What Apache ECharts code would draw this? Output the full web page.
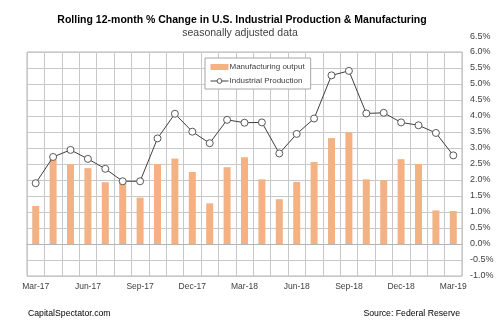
<!DOCTYPE html>
<html>
<head>
<meta charset="utf-8">
<script src="https://cdn.jsdelivr.net/npm/echarts@6/dist/echarts.min.js"></script>
<style>
  html, body { margin: 0; padding: 0; background: #fff; }
  #chart { width: 500px; height: 330px; }
</style>
</head>
<body>
<div id="chart"></div>
<script>
// Monthly categories, Mar 2017 through Mar 2019
const months = [
  'Mar-17','Apr-17','May-17','Jun-17','Jul-17','Aug-17','Sep-17','Oct-17','Nov-17','Dec-17',
  'Jan-18','Feb-18','Mar-18','Apr-18','May-18','Jun-18','Jul-18','Aug-18','Sep-18','Oct-18',
  'Nov-18','Dec-18','Jan-19','Feb-19','Mar-19'
];

// Rolling 12-month % change, manufacturing output (bars)
const manufacturing = [
  1.19, 2.64, 2.49, 2.37, 1.93, 1.95, 1.45, 2.50, 2.67, 2.25,
  1.27, 2.40, 2.71, 2.02, 1.40, 1.94, 2.56, 3.31, 3.49, 2.02,
  1.99, 2.65, 2.50, 1.05, 1.03
];

// Rolling 12-month % change, industrial production (line)
const industrial = [
  1.90, 2.72, 2.94, 2.66, 2.35, 1.96, 1.96, 3.30, 4.07, 3.51,
  3.15, 3.88, 3.79, 3.80, 2.83, 3.44, 3.92, 5.27, 5.41, 4.08,
  4.10, 3.80, 3.71, 3.47, 2.77
];

const gridColor = '#c8c8c8';
const borderColor = '#b4b4b4';
const textColor = '#404040';
const font = 'Arial, "Liberation Sans", sans-serif';

const chart = echarts.init(document.getElementById('chart'), null, { renderer: 'canvas' });

chart.setOption({
  animation: false,
  backgroundColor: '#fff',
  textStyle: { fontFamily: font },
  title: [
    {
      text: 'Rolling 12-month % Change in U.S. Industrial Production & Manufacturing',
      left: 242, top: 15, textAlign: 'center', padding: 0,
      textStyle: { fontSize: 10.5, fontWeight: 'bold', color: '#000', fontFamily: font }
    },
    {
      text: 'seasonally adjusted data',
      left: 240, top: 28, textAlign: 'center', padding: 0,
      textStyle: { fontSize: 10.5, fontWeight: 'normal', color: textColor, fontFamily: font }
    },
    {
      text: 'CapitalSpectator.com',
      left: 28, top: 309, padding: 0,
      textStyle: { fontSize: 8.7, fontWeight: 'normal', color: '#000', fontFamily: font }
    },
    {
      text: 'Source: Federal Reserve',
      right: 40, top: 309, padding: 0,
      textStyle: { fontSize: 8.7, fontWeight: 'normal', color: '#000', fontFamily: font }
    }
  ],
  legend: {
    orient: 'vertical',
    left: 205, top: 58,
    padding: [4, 6, 3, 5],
    itemGap: 4,
    itemWidth: 18,
    itemHeight: 6,
    backgroundColor: '#fff',
    borderColor: '#a6a6a6',
    borderWidth: 1,
    borderRadius: 0,
    textStyle: { fontSize: 8, color: textColor, fontFamily: font, padding: [0, 0, 0, -4], lineHeight: 10 },
    data: [
      { name: 'Manufacturing output', icon: 'rect' },
      {
        name: 'Industrial Production',
        lineStyle: { color: '#404040', width: 1 },
        itemStyle: { color: '#fff', borderColor: '#595959', borderWidth: 1 }
      }
    ]
  },
  grid: {
    left: 27, right: 38, top: 52, bottom: 54,
    show: true, borderColor: borderColor, borderWidth: 1
  },
  xAxis: {
    type: 'category',
    data: months,
    boundaryGap: true,
    axisLine: { show: true, lineStyle: { color: borderColor } },
    axisTick: { show: false },
    axisLabel: { interval: 2, margin: 6, fontSize: 8.5, color: textColor, fontFamily: font },
    splitLine: { show: true, interval: 0, lineStyle: { color: gridColor, width: 1 } }
  },
  yAxis: {
    type: 'value',
    position: 'right',
    min: -1, max: 6, interval: 0.5,
    name: '6.5%',
    nameLocation: 'end',
    nameGap: 15,
    nameTextStyle: { fontSize: 9, color: textColor, fontFamily: font, align: 'left', verticalAlign: 'middle', padding: [0, 0, 0, 8] },
    axisLine: { show: false },
    axisTick: { show: false },
    axisLabel: {
      margin: 8, fontSize: 9, color: textColor, fontFamily: font,
      formatter: v => v.toFixed(1) + '%'
    },
    splitLine: { show: true, lineStyle: { color: gridColor, width: 1 } }
  },
  series: [
    {
      name: 'Manufacturing output',
      type: 'bar',
      data: manufacturing,
      barWidth: 7,
      itemStyle: { color: '#F4B183' },
      z: 2
    },
    {
      name: 'Industrial Production',
      type: 'line',
      data: industrial,
      symbol: 'circle',
      symbolSize: 7,
      lineStyle: { color: '#404040', width: 1 },
      itemStyle: { color: '#fff', borderColor: '#595959', borderWidth: 1 },
      z: 3
    }
  ]
});
</script>
</body>
</html>
